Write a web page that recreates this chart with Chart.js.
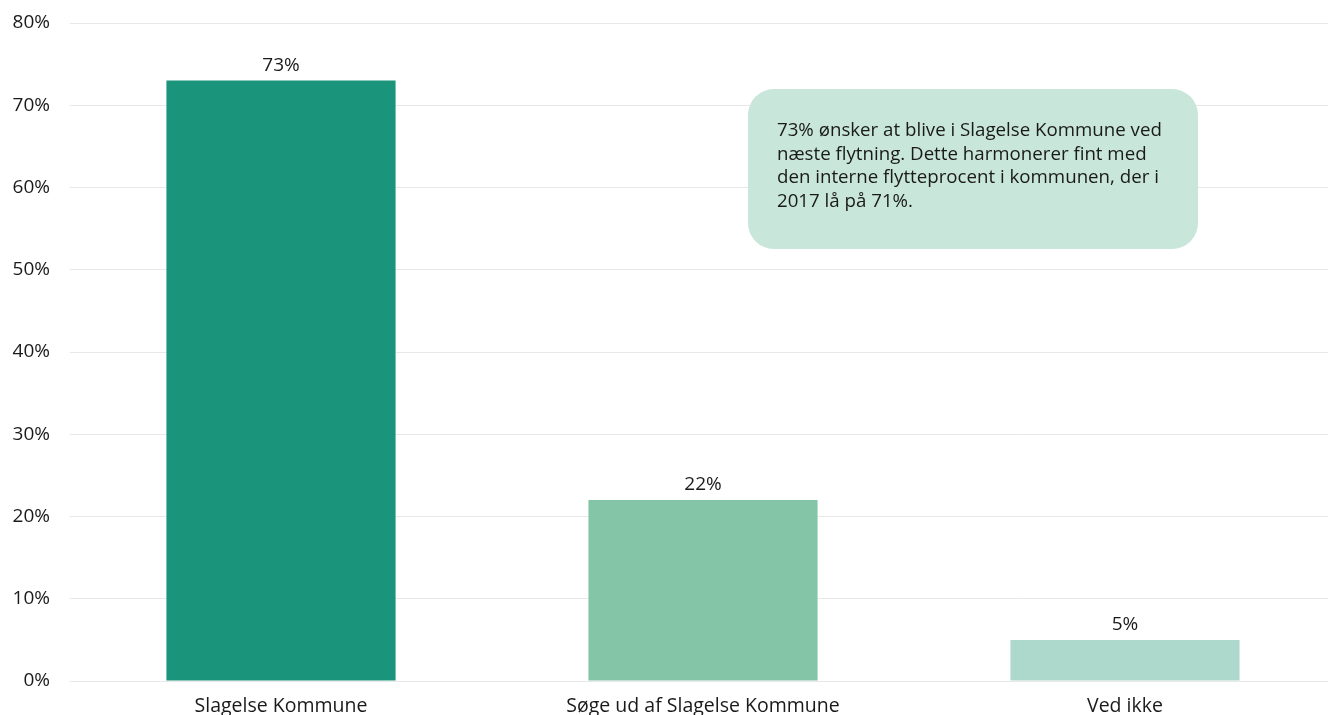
<!DOCTYPE html>
<html>
<head>
<meta charset="utf-8">
<script src="https://cdn.jsdelivr.net/npm/chart.js@4"></script>
<style>
  html, body { margin: 0; padding: 0; background: #fff; overflow: hidden; }
  #wrap { width: 1336px; height: 715px; position: relative; }
</style>
</head>
<body>
<div id="wrap"><canvas id="chart"></canvas></div>
<script>
// Data
const categories = ['Slagelse Kommune', 'Søge ud af Slagelse Kommune', 'Ved ikke'];
const values = [73, 22, 5];
const barColors = ['#1a957c', '#84c5a8', '#add9cc'];
const yTicks = [0, 10, 20, 30, 40, 50, 60, 70, 80];
const noteLines = [
    '73% ønsker at blive i Slagelse Kommune ved',
    'næste flytning. Dette harmonerer fint med',
    'den interne flytteprocent i kommunen, der i',
    '2017 lå på 71%.'
];

const FONT = '"Open Sans", "Noto Sans", sans-serif';

// value labels above bars
const valueLabels = {
    id: 'valueLabels',
    afterDatasetsDraw(chart) {
        const ctx = chart.ctx;
        const meta = chart.getDatasetMeta(0);
        ctx.save();
        ctx.font = '19px ' + FONT;
        ctx.fillStyle = '#1a1a1a';
        ctx.textAlign = 'center';
        ctx.textBaseline = 'alphabetic';
        meta.data.forEach((bar, i) => {
            ctx.fillText(values[i] + '%', bar.x, bar.y - 10);
        });
        ctx.restore();
    }
};

// note box
const noteBox = {
    id: 'noteBox',
    afterDraw(chart) {
        const ctx = chart.ctx;
        const x = 748, y = 89, w = 450, h = 160, r = 26;
        ctx.save();
        ctx.fillStyle = '#c8e6da';
        ctx.beginPath();
        ctx.roundRect(x, y, w, h, r);
        ctx.fill();
        ctx.font = '18.7px ' + FONT;
        ctx.fillStyle = '#1a1a1a';
        ctx.textBaseline = 'middle';
        noteLines.forEach((line, i) => {
            ctx.fillText(line, 777, 131 + i * 23.5);
        });
        ctx.restore();
    }
};

new Chart(document.getElementById('chart'), {
    type: 'bar',
    data: {
        labels: categories,
        datasets: [{
            data: values,
            backgroundColor: barColors,
            borderWidth: 0,
            categoryPercentage: 1,
            barPercentage: 0.543
        }]
    },
    options: {
        responsive: true,
        maintainAspectRatio: false,
        animation: false,
        layout: { padding: { top: 23, right: 0, bottom: 0, left: 0 } },
        plugins: {
            legend: { display: false },
            tooltip: { enabled: false }
        },
        scales: {
            x: {
                afterFit(scale) { scale.height = 34; scale.paddingLeft = 0; scale.paddingRight = 0; },
                grid: { display: false, drawTicks: false },
                border: { display: false },
                ticks: {
                    color: '#1a1a1a',
                    font: { family: FONT, size: 19.5 },
                    padding: 14,
                    maxRotation: 0
                }
            },
            y: {
                min: 0,
                max: 80,
                afterFit(scale) {
                    scale.width = 70;
                    scale.paddingTop = 0;
                    scale.paddingBottom = 0;
                },
                afterBuildTicks(scale) { scale.ticks = yTicks.map(v => ({ value: v })); },
                grid: { color: '#e8e8e8', drawTicks: false, lineWidth: 1 },
                border: { display: false },
                ticks: {
                    color: '#1a1a1a',
                    font: { family: FONT, size: 19 },
                    padding: 20,
                    callback: v => v + '%'
                }
            }
        }
    },
    plugins: [valueLabels, noteBox]
});
</script>
</body>
</html>
